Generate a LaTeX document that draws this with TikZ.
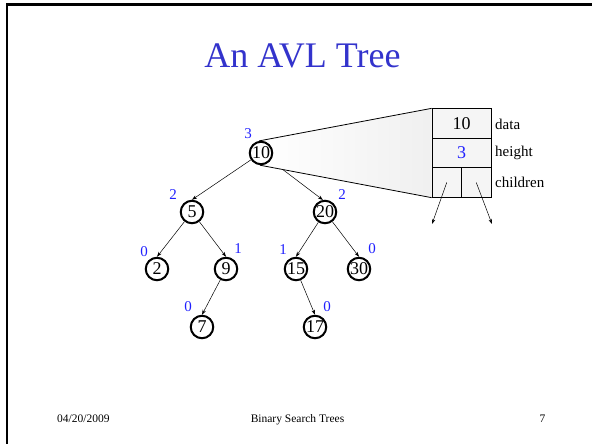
\documentclass[tikz,border=0pt]{standalone}
\usepackage{fontspec}
\setmainfont{Liberation Serif}
\usetikzlibrary{arrows.meta}
\definecolor{titleblue}{HTML}{3333CC}
\definecolor{hblue}{HTML}{2020FF}
\pgfdeclarelayer{edges}
\pgfdeclarelayer{shade}
\pgfsetlayers{edges,shade,main}
\begin{document}
\begin{tikzpicture}[x=1pt,y=-1pt,
  tnode/.style={circle,draw,line width=2pt,fill=white,minimum size=22.5pt,inner sep=0pt,font=\fontsize{18}{18}\selectfont},
  hlabel/.style={text=hblue,inner sep=0pt,font=\fontsize{15}{15}\selectfont},
  edge/.style={line width=0.5pt,-{Stealth[length=5pt,width=3.5pt]}},
  cell/.style={draw,line width=0.8pt,fill=black!4,minimum width=59pt,minimum height=29.5pt,inner sep=0pt,font=\fontsize{18}{18}\selectfont},
  halfcell/.style={draw,line width=0.8pt,fill=black!4,minimum width=29.5pt,minimum height=29.5pt,inner sep=0pt},
  flabel/.style={anchor=west,inner sep=0pt,font=\fontsize{15}{15}\selectfont},
  foot/.style={inner sep=0pt,font=\fontsize{11.5}{11.5}\selectfont}
]
\useasboundingbox (0,0) rectangle (592,444);
\draw[line width=2.5pt] (7,444) -- (7,4.5) -- (592,4.5);
\node[anchor=base,inner sep=0pt,text=titleblue,font=\fontsize{36}{36}\selectfont] (title) at (302.5,68) {An AVL Tree};

% tree nodes
\node[tnode] (n10) at (261,153) {10};
\node[tnode] (n5) at (192,212) {5};
\node[tnode] (n20) at (325,212) {20};
\node[tnode] (n2) at (157,269) {2};
\node[tnode] (n9) at (226,269) {9};
\node[tnode] (n15) at (296,269) {15};
\node[tnode] (n30) at (359,269) {30};
\node[tnode] (n7) at (202,327) {7};
\node[tnode] (n17) at (315,327) {17};

% heights
\node[hlabel] (h10) at (248,134) {3};
\node[hlabel] (h5) at (173,195) {2};
\node[hlabel] (h20) at (342,195) {2};
\node[hlabel] (h2) at (144,252) {0};
\node[hlabel] (h9) at (238,249) {1};
\node[hlabel] (h15) at (283,250) {1};
\node[hlabel] (h30) at (372,249) {0};
\node[hlabel] (h7) at (188,307) {0};
\node[hlabel] (h17) at (327,307) {0};

% record
\node[cell] (data) at (461.5,123.5) {10};
\node[cell,text=hblue] (height) at (461.5,153) {3};
\node[halfcell] (c1) at (446.75,182.5) {};
\node[halfcell] (c2) at (476.25,182.5) {};
\node[flabel] (ldata) at (495,124) {data};
\node[flabel] (lheight) at (495,153) {height};
\node[flabel] (lchildren) at (495,182) {children};
\coordinate (e1) at (432,224);
\coordinate (e2) at (492,224);
\draw[edge] (c1.center) -- (e1);
\draw[edge] (c2.center) -- (e2);

\begin{pgfonlayer}{shade}
\shade[left color=white,right color=black!6] (n10.100) -- (data.north west) -- (c1.south west) -- (n10.-95) -- cycle;
\draw[line width=0.8pt] (n10.100) -- (data.north west);
\draw[line width=0.8pt] (n10.-95) -- (c1.south west);
\end{pgfonlayer}

\begin{pgfonlayer}{edges}
\draw[edge] (n10) -- (n5.north);
\draw[edge] (n10) -- (n20.100);
\draw[edge] (n5) -- (n2.north);
\draw[edge] (n5) -- (n9.north);
\draw[edge] (n20) -- (n15.north);
\draw[edge] (n20) -- (n30.north);
\draw[edge] (n9) -- (n7.north);
\draw[edge] (n15) -- (n17.north);
\end{pgfonlayer}

% footer
\node[foot,anchor=base west] (date) at (57,422) {04/20/2009};
\node[foot,anchor=base] (ftitle) at (297.5,422) {Binary Search Trees};
\node[foot,anchor=base] (page) at (542.5,422) {7};
\end{tikzpicture}
\end{document}
